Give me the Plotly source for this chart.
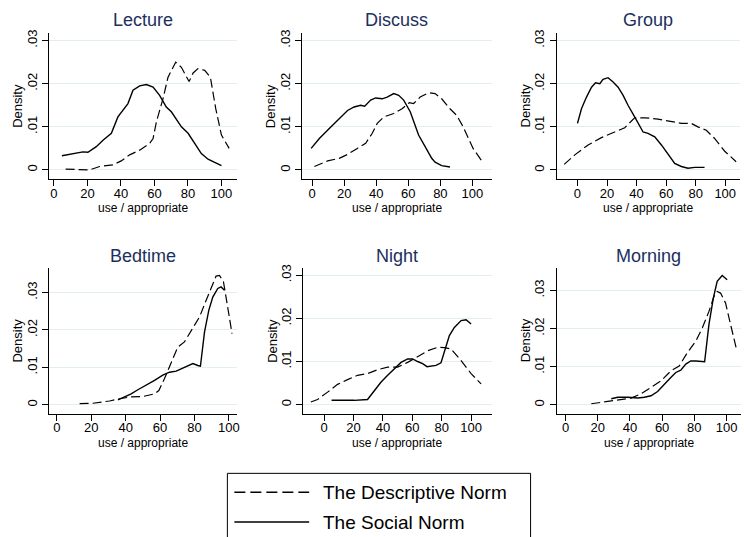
import plotly.graph_objects as go

W, H = 744, 537

panel_titles = ["Lecture", "Discuss", "Group", "Bedtime", "Night", "Morning"]
x_tick_vals = [0, 20, 40, 60, 80, 100]
y_tick_vals = [0, 0.01, 0.02, 0.03]
y_tick_text = ["0", ".01", ".02", ".03"]
x_title = "use / appropriate"
y_title = "Density"
legend_labels = ["The Descriptive Norm", "The Social Norm"]

# ---- Lecture ----
lecture_desc_x = [7, 15.3, 21.3, 27.3, 35.3, 40.2, 45.2, 51.2, 57.2, 59.2, 61.2, 65.1, 68.1, 72.7, 76.1, 80.7, 83.1, 86, 90, 93.4, 96.6, 100, 104.6]
lecture_desc_y = [.0002, .00015, 0, .0008, .0012, .0021, .0035, .0046, .0062, .0073, .0112, .0165, .0215, .0250, .0238, .0205, .0225, .0235, .0231, .0215, .0142, .0081, .0050]
lecture_soc_x = [4.8, 13.3, 17.3, 20.3, 25.3, 29.3, 34.3, 38.2, 41.2, 44.2, 47.2, 51.2, 55.2, 59.2, 63.1, 67.1, 70.1, 72.1, 76.1, 80.1, 84.1, 88, 92, 96, 100]
lecture_soc_y = [.0033, .0038, .0042, .0041, .0054, .0069, .0085, .0123, .0138, .0154, .0185, .0195, .0198, .0192, .0173, .0146, .0135, .0123, .0100, .0085, .0062, .0038, .0025, .0017, .0010]

# ---- Discuss ----
discuss_desc_x = [1.4, 9.7, 16.9, 22.1, 28.2, 33.4, 37.5, 40.6, 44.7, 50.9, 56.1, 60.6, 63.3, 67.4, 72.6, 76.7, 80.8, 86, 90.1, 94.2, 100.4, 106.2]
discuss_desc_y = [.0008, .0021, .0027, .0036, .0050, .0062, .0085, .0108, .0123, .0131, .0142, .0156, .0154, .0169, .0179, .0177, .0165, .0142, .0127, .0100, .0050, .0019]
discuss_soc_x = [-0.6, 4.5, 10.7, 13.8, 17.9, 22.1, 26.2, 30.3, 32.8, 36.5, 39.6, 43.7, 46.8, 50.9, 54, 57.1, 61.2, 63.3, 66.4, 70.5, 74.6, 76.7, 80.8, 86]
discuss_soc_y = [.0050, .0073, .0096, .0108, .0123, .0138, .0146, .0150, .0148, .0162, .0167, .0165, .0169, .0177, .0173, .0162, .0135, .0112, .0081, .0054, .0027, .0018, .0010, .0007]

# ---- Group ----
group_desc_x = [-9, -1.8, 7.2, 16.2, 25.2, 32, 38.7, 45.5, 54.5, 63.5, 70.3, 77, 81.5, 87.2, 92.8, 99.5, 107.4]
group_desc_y = [.0013, .0035, .0058, .0075, .0088, .0098, .0121, .0121, .0118, .0112, .0108, .0108, .0100, .0092, .0073, .0044, .0019]
group_soc_x = [0, 2.7, 6.1, 9.5, 12.2, 15.1, 17.3, 20.7, 24.1, 27.5, 30.9, 34.2, 38.7, 42.8, 44.4, 47.7, 52.3, 56.8, 61.3, 65.8, 70.3, 74.8, 79.3, 86]
group_soc_y = [.0108, .0142, .0169, .0192, .0202, .0200, .0210, .0214, .0204, .0192, .0173, .0150, .0123, .0100, .0088, .0085, .0077, .0058, .0035, .0015, .0008, .0004, .0006, .0006]

# ---- Bedtime ----
bedtime_desc_x = [13.2, 20.9, 30.6, 36.4, 43.2, 50, 56.8, 59.3, 62.6, 65.5, 68.4, 70.3, 74.2, 78.1, 83, 86.8, 90.7, 92.6, 94.6, 96.9, 98.4, 100.4, 101.9]
bedtime_desc_y = [.0003, .0004, .0010, .0016, .0021, .0022, .0029, .0038, .0070, .0101, .0132, .0154, .0168, .0199, .0235, .0279, .0324, .0344, .0346, .0329, .0288, .0233, .0190]
bedtime_soc_x = [35.5, 39.3, 43.2, 47.1, 51.9, 56.8, 61.6, 65.5, 69.4, 72.3, 76.2, 79.1, 82, 83.5, 85.9, 88.4, 90.7, 93.6, 95.5, 97.5]
bedtime_soc_y = [.0013, .0021, .0029, .0040, .0052, .0065, .0079, .0087, .0090, .0096, .0105, .0110, .0105, .0103, .0195, .0253, .0288, .0311, .0315, .0306]

# ---- Night ----
night_desc_x = [-9.1, -4.5, 2.3, 9.1, 15.9, 22.7, 29.5, 36.4, 43.2, 50, 56.8, 63.6, 70.5, 77.3, 81.8, 86.4, 93.2, 100, 106.8]
night_desc_y = [.0006, .0012, .0029, .0047, .0058, .0068, .0072, .0081, .0087, .0087, .0098, .0112, .0125, .0133, .0132, .0129, .0102, .0072, .0048]
night_soc_x = [5, 13.6, 20.5, 29.5, 34.1, 38.6, 43.2, 47.7, 52.3, 56.8, 60.2, 63.6, 67, 70, 72.7, 76.1, 79.5, 81.8, 85.2, 88.6, 93.2, 96.6, 100]
night_soc_y = [.0010, .0010, .0010, .0012, .0033, .0052, .0068, .0083, .0098, .0106, .0106, .0100, .0095, .0088, .0090, .0091, .0097, .0125, .0160, .0179, .0195, .0197, .0187]

# ---- Morning ----
morning_desc_x = [16, 22.2, 28.4, 34.6, 40.7, 46.9, 53.1, 59.3, 65.4, 70.6, 75.7, 80.9, 85, 89.1, 92.2, 94.2, 96.3, 99.4, 102.5, 106.2]
morning_desc_y = [.0003, .0007, .0011, .0016, .0018, .0029, .0046, .0063, .0089, .0102, .0137, .0167, .0202, .0245, .0284, .0297, .0293, .0267, .0211, .0146]
morning_soc_x = [28.4, 32.5, 38.7, 44.9, 49, 53.1, 57.2, 61.3, 65.4, 68.5, 71.6, 74.7, 77.8, 80.9, 84, 86.4, 89.1, 91.8, 94.2, 97.3, 100.4]
morning_soc_y = [.0016, .0020, .0020, .0018, .0020, .0024, .0035, .0055, .0072, .0085, .0091, .0107, .0115, .0115, .0114, .0113, .0211, .0280, .0324, .0339, .0328]

desc_x = [lecture_desc_x, discuss_desc_x, group_desc_x, bedtime_desc_x, night_desc_x, morning_desc_x]
desc_y = [lecture_desc_y, discuss_desc_y, group_desc_y, bedtime_desc_y, night_desc_y, morning_desc_y]
soc_x = [lecture_soc_x, discuss_soc_x, group_soc_x, bedtime_soc_x, night_soc_x, morning_soc_x]
soc_y = [lecture_soc_y, discuss_soc_y, group_soc_y, bedtime_soc_y, night_soc_y, morning_soc_y]

# layout geometry (pixels)
x_dom_px = [(49, 238), (303, 493), (558, 742), (49, 238), (304, 493), (558, 743)]
y_dom_px = [(30, 177)] * 3 + [(266, 413)] * 3
x_ranges = [[-3, 109.5], [-6.2, 112], [-14.2, 110], [-4.7, 105], [-14.3, 114], [-5.6, 109]]
y_ranges = [[-0.0021, 0.0318]] * 3 + [[-0.0024, 0.0367], [-0.0021, 0.0318], [-0.0023, 0.036]]

FONT = "Liberation Sans, Arial, sans-serif"
TITLE_COLOR = "#1c2f5e"
GRID = "#e3eef0"

fig = go.Figure()
layout = dict(
    width=W, height=H, margin=dict(l=0, r=0, t=0, b=0),
    paper_bgcolor="white", plot_bgcolor="white", showlegend=False,
    font=dict(family=FONT, size=13, color="black"),
)
annotations = []
shapes = []

def px_x(p):
    return p / W

def px_y(p):
    return 1 - p / H

for i in range(6):
    n = "" if i == 0 else str(i + 1)
    xa, ya = "x" + n, "y" + n
    fig.add_trace(go.Scatter(x=desc_x[i], y=desc_y[i], mode="lines", xaxis=xa, yaxis=ya,
                             line=dict(color="black", width=1.2, dash="9px,4px"),
                             name=legend_labels[0]))
    fig.add_trace(go.Scatter(x=soc_x[i], y=soc_y[i], mode="lines", xaxis=xa, yaxis=ya,
                             line=dict(color="black", width=1.4),
                             name=legend_labels[1]))
    x0, x1 = x_dom_px[i]
    y0, y1 = y_dom_px[i]
    layout["xaxis" + n] = dict(
        domain=[px_x(x0), px_x(x1)], anchor=ya, range=x_ranges[i],
        tickvals=x_tick_vals, ticks="outside", ticklen=6, tickwidth=1, tickcolor="black",
        showline=True, linecolor="black", linewidth=1, showgrid=False, zeroline=False,
        tickfont=dict(size=13, family=FONT), fixedrange=True, ticklabelstandoff=-4,
    )
    layout["yaxis" + n] = dict(
        domain=[px_y(y1), px_y(y0)], anchor=xa, range=y_ranges[i],
        tickvals=y_tick_vals, ticktext=y_tick_text, tickangle=-90,
        ticks="outside", ticklen=6, tickwidth=1, tickcolor="black",
        showline=True, linecolor="black", linewidth=1,
        showgrid=True, gridcolor=GRID, gridwidth=1, zeroline=False,
        tickfont=dict(size=13, family=FONT), fixedrange=True,
    )
    cx = (x0 + x1) / 2
    title_y = 17 if i < 3 else 254
    annotations.append(dict(text=panel_titles[i], x=px_x(cx), y=px_y(title_y), xref="paper", yref="paper",
                            showarrow=False, xanchor="center", yanchor="middle",
                            font=dict(size=18, color=TITLE_COLOR, family=FONT)))
    annotations.append(dict(text=x_title, x=px_x(cx), y=px_y(y1 + 29), xref="paper", yref="paper",
                            showarrow=False, xanchor="center", yanchor="middle",
                            font=dict(size=12, color="black", family=FONT)))
    annotations.append(dict(text=y_title, x=px_x(x0 - 31), y=px_y((y0 + y1) / 2), xref="paper", yref="paper",
                            showarrow=False, xanchor="center", yanchor="middle", textangle=-90,
                            font=dict(size=13, color="black", family=FONT)))

# legend box (drawn manually to match the long line samples)
shapes.append(dict(type="rect", xref="paper", yref="paper", x0=px_x(228), x1=px_x(532),
                   y0=px_y(545), y1=px_y(473), line=dict(color="black", width=1), fillcolor="white"))
shapes.append(dict(type="line", xref="paper", yref="paper", x0=px_x(235), x1=px_x(310),
                   y0=px_y(492), y1=px_y(492), line=dict(color="black", width=1.5, dash="11px,5px")))
shapes.append(dict(type="line", xref="paper", yref="paper", x0=px_x(235), x1=px_x(310),
                   y0=px_y(522), y1=px_y(522), line=dict(color="black", width=1.5)))
for lab, ly in zip(legend_labels, [492, 522]):
    annotations.append(dict(text=lab, x=px_x(322), y=px_y(ly), xref="paper", yref="paper",
                            showarrow=False, xanchor="left", yanchor="middle",
                            font=dict(size=19, color="black", family=FONT)))

layout["annotations"] = annotations
layout["shapes"] = shapes
fig.update_layout(**layout)
fig.write_html("out.html", config={"displayModeBar": False},
               post_script="document.body.style.margin='0';document.body.style.overflow='hidden';")
